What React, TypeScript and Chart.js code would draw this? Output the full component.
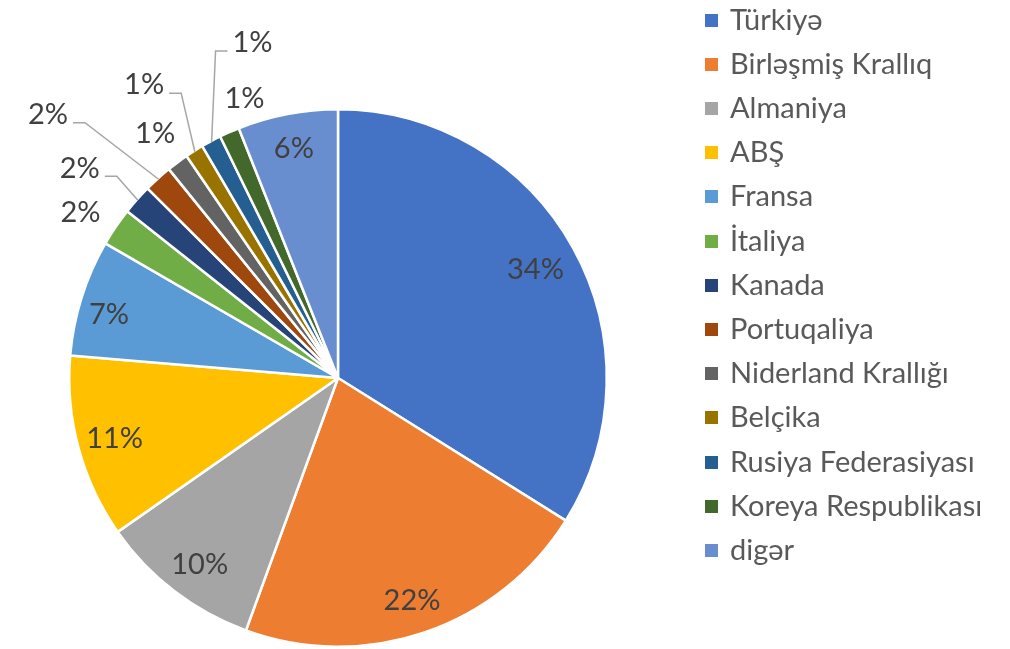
import React, { useEffect, useRef } from "react";
import { Chart, registerables } from "chart.js";

Chart.register(...registerables);

const categories = [
  "Türkiyə",
  "Birləşmiş Krallıq",
  "Almaniya",
  "ABŞ",
  "Fransa",
  "İtaliya",
  "Kanada",
  "Portuqaliya",
  "Niderland Krallığı",
  "Belçika",
  "Rusiya Federasiyası",
  "Koreya Respublikası",
  "digər",
];
const shares = [33.8, 21.6, 9.7, 11.0, 7.0, 2.3, 1.8, 1.7, 1.3, 1.1, 1.2, 1.2, 6.0];
const colors = [
  "#4472C4",
  "#ED7D31",
  "#A5A5A5",
  "#FFC000",
  "#5B9BD5",
  "#70AD47",
  "#264478",
  "#9E480E",
  "#636363",
  "#997300",
  "#255E91",
  "#43682B",
  "#698ED0",
];
// label placement relative to slice: radius factor, angle offset (deg), leader line
const labelRadius = [0.84, 0.87, 0.86, 0.86, 0.885, 1.14, 1.24, 1.46, 1.14, 1.31, 1.29, 1.1, 0.873];
const labelAngleOffset = [0, 0.5, -0.8, 0.2, -1.8, -1.4, -2.4, -5.6, 0, -1.1, 13.9, 5.4, 0];
const labelLeader = [false, false, false, false, false, false, true, true, false, true, true, false, false];

const FONT = "Lato, 'Open Sans', sans-serif";

const labelPlugin = {
  id: "pieLabels",
  afterDatasetsDraw(chart: any) {
    const ctx = chart.ctx;
    const meta = chart.getDatasetMeta(0);
    const data = chart.data.datasets[0].data as number[];
    const total = data.reduce((a, b) => a + b, 0);
    ctx.save();
    ctx.font = `29px ${FONT}`;
    ctx.fillStyle = "#404040";
    ctx.textAlign = "center";
    ctx.textBaseline = "middle";
    meta.data.forEach((arc: any, i: number) => {
      const { x, y, startAngle, endAngle, outerRadius } = arc.getProps(
        ["x", "y", "startAngle", "endAngle", "outerRadius"],
        true
      );
      const mid = (startAngle + endAngle) / 2;
      const ang = mid + (labelAngleOffset[i] * Math.PI) / 180;
      const lr = outerRadius * labelRadius[i];
      const lx = x + Math.cos(ang) * lr;
      const ly = y + Math.sin(ang) * lr;
      const text = Math.round((data[i] / total) * 100) + "%";
      ctx.fillText(text, lx, ly + 1);
      if (labelLeader[i]) {
        const ex = x + Math.cos(mid) * (outerRadius - 1);
        const ey = y + Math.sin(mid) * (outerRadius - 1);
        const w = ctx.measureText(text).width;
        const yy = ly + 9;
        let ax1: number, ax2: number;
        if (lx < ex) {
          ax1 = lx + w / 2 + 5;
          ax2 = ax1 + 12;
        } else {
          ax1 = lx - w / 2 - 5;
          ax2 = ax1 - 12;
        }
        ctx.strokeStyle = "#A6A6A6";
        ctx.lineWidth = 1.5;
        ctx.beginPath();
        ctx.moveTo(ax1, yy);
        ctx.lineTo(ax2, yy);
        ctx.lineTo(ex, ey);
        ctx.stroke();
      }
    });
    ctx.restore();
  },
};

export default function App() {
  const canvasRef = useRef<HTMLCanvasElement | null>(null);

  useEffect(() => {
    document.body.style.margin = "0";
    const canvas = canvasRef.current;
    if (!canvas) return;
    const chart = new Chart(canvas, {
      type: "pie",
      data: {
        labels: categories,
        datasets: [
          {
            data: shares,
            backgroundColor: colors,
            borderColor: "#FFFFFF",
            borderWidth: 2.5,
          },
        ],
      },
      options: {
        animation: false,
        responsive: false,
        devicePixelRatio: 1,
        layout: { padding: { left: 68, top: 108, right: 402, bottom: 52 } },
        plugins: {
          legend: { display: false },
          tooltip: { enabled: false },
        },
      },
      plugins: [labelPlugin],
    });
    return () => chart.destroy();
  }, []);

  const rowStart = 20;
  const rowStep = 44.2;

  return (
    <div
      style={{
        position: "fixed",
        left: 0,
        top: 0,
        width: 1010,
        height: 649,
        overflow: "hidden",
        background: "#FFFFFF",
      }}
    >
      <canvas ref={canvasRef} width={1010} height={700} style={{ position: "absolute", left: 0, top: 0 }} />
      {categories.map((name, i) => (
        <div
          key={name}
          style={{
            position: "absolute",
            left: 705,
            top: rowStart + i * rowStep - 20,
            height: 40,
            display: "flex",
            alignItems: "center",
            whiteSpace: "nowrap",
          }}
        >
          <span
            style={{
              display: "inline-block",
              width: 13,
              height: 13,
              background: colors[i],
              marginRight: 12,
            }}
          />
          <span style={{ fontFamily: FONT, fontSize: 29, color: "#595959", lineHeight: "40px", marginTop: -3 }}>
            {name}
          </span>
        </div>
      ))}
    </div>
  );
}
